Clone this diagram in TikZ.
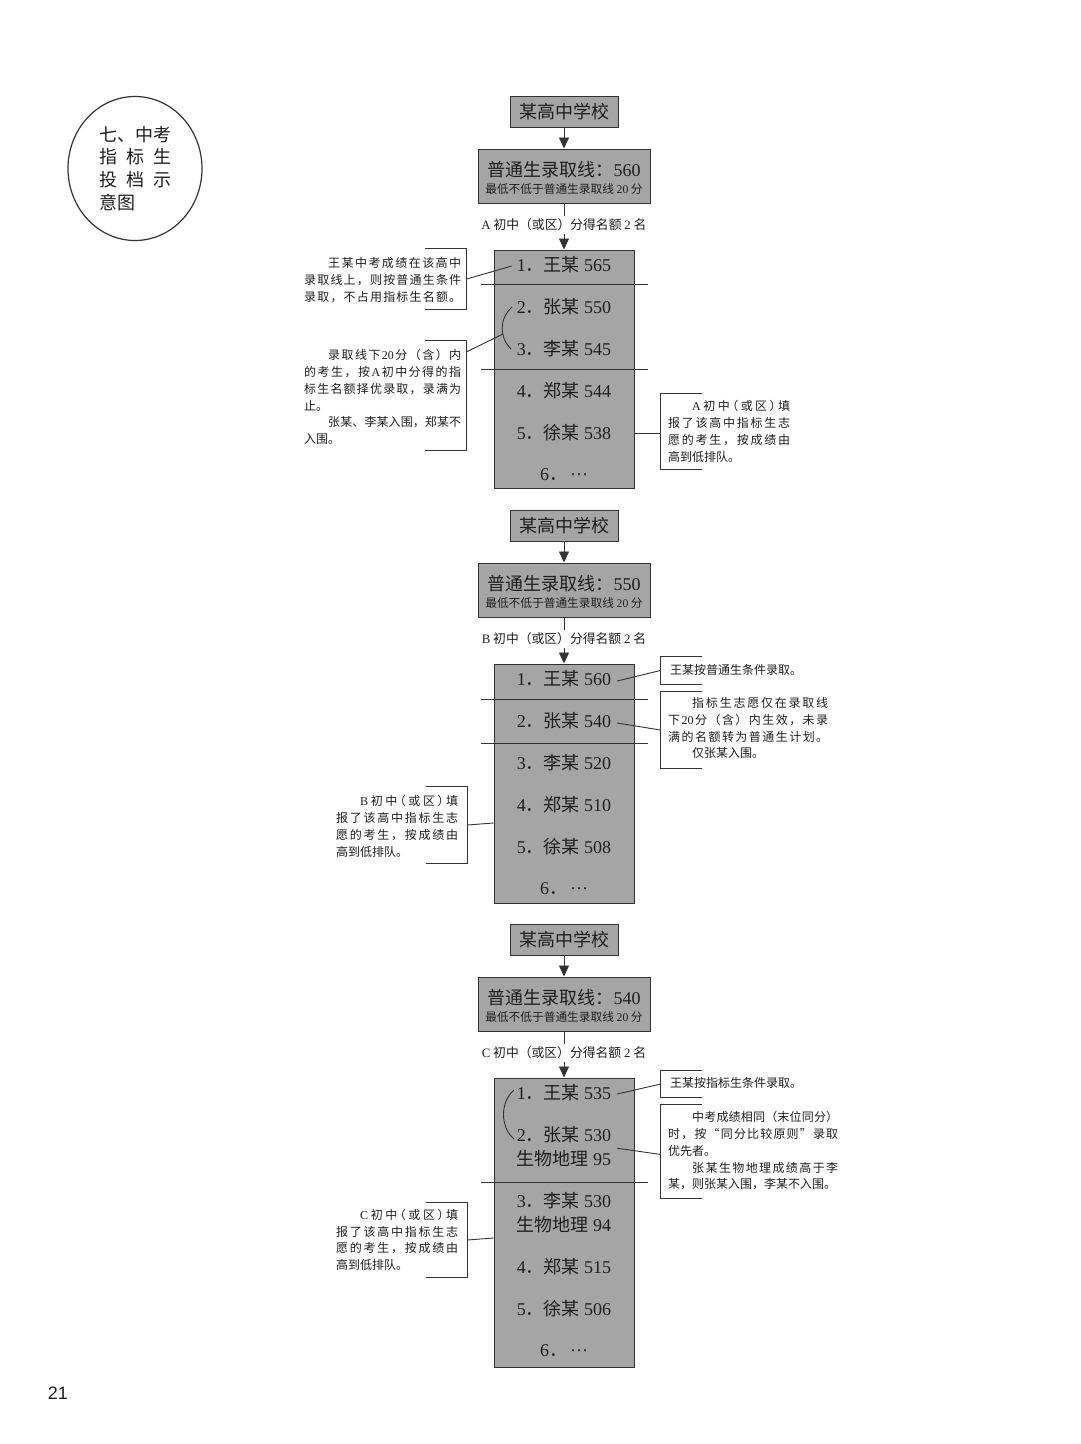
\documentclass[tikz,border=0pt]{standalone}
\usepackage{fontspec}
\setmainfont{Noto Sans CJK SC}
\newfontfamily\latf{Liberation Serif}
\newfontfamily\arialf{Liberation Sans}
\newfontfamily\cjkhalt[RawFeature=+halt]{Noto Sans CJK SC}
\usetikzlibrary{arrows.meta,shapes.geometric,calc}
\definecolor{boxgray}{HTML}{A5A5A5}
\definecolor{ink}{HTML}{1E1E1E}
\definecolor{edge}{HTML}{333333}
\newcommand\latn[1]{{\latf #1}}
\newcommand\lp{{\cjkhalt （}}
\newcommand\rp{{\cjkhalt ）}}
\newcommand\middots{\hspace{3pt}\raisebox{0.28em}{\latf …}}
\makeatletter
\let\sprend\relax
\newcommand\spr[2]{\makebox[#1][s]{\spr@a#2\sprend}}
\newcommand\sprI[2]{\makebox[#1][s]{\hspace*{2em}\spr@a#2\sprend}}
\def\spr@a#1{{#1}\spr@b}
\def\spr@b#1{\ifx\sprend#1\else\hfil{#1}\expandafter\spr@b\fi}
\makeatother
\tikzset{
  ln/.style={draw=edge, line width=0.9pt},
  arr/.style={ln, -{Triangle[length=11pt,width=10pt]}},
  hd/.style={draw=edge, fill=boxgray, line width=1pt, minimum width=108pt, minimum height=31pt, inner sep=0pt, font=\fontsize{18pt}{21pt}\selectfont, text=ink},
  lb/.style={draw=edge, fill=boxgray, line width=1pt, minimum width=172pt, minimum height=54pt, inner sep=0pt},
  big/.style={draw=edge, fill=boxgray, line width=1pt, minimum width=140pt, inner sep=0pt},
  itm/.style={inner sep=0pt, font=\fontsize{18pt}{21pt}\selectfont, text=ink},
  quota/.style={inner sep=2.5pt, font=\fontsize{12.8pt}{15pt}\selectfont, text=ink},
  note/.style={inner sep=0pt, align=left, anchor=north west, font=\fontsize{12pt}{16.7pt}\selectfont, text=ink},
  brk/.style={inner sep=0pt, minimum width=41pt},
}
\newcommand\topblk[4]{%
  \node[hd] (#1h) at (564,111.5+#2) {某高中学校};
  \node[lb] (#1b) at (564,176+#2) {};
  \node[itm] (#1bt) at (564,170+#2) {普通生录取线：\latn{#3}};
  \node[itm, font=\fontsize{11.7pt}{13pt}\selectfont] (#1bs) at (564,189.5+#2) {最低不低于普通生录取线 \latn{20} 分};
  \node[quota] (#1q) at (564,225+#2) {\latn{#4} 初中（或区）分得名额 \latn{2} 名};
  \draw[arr] (#1h) -- (#1b);
  \draw[ln] (#1b) -- (#1q);
}
\newcommand\lbrk[1]{\draw[ln] (#1.north west) -- (#1.north east) -- (#1.south east) -- (#1.south west);}
\newcommand\rbrk[1]{\draw[ln] (#1.north east) -- (#1.north west) -- (#1.south west) -- (#1.south east);}
\begin{document}
\begin{tikzpicture}[x=1pt,y=-1pt]
\fill[white] (0,0) rectangle (1080,1444);
\useasboundingbox (0,0) rectangle (1080,1444);

% title ellipse
\node[draw=edge, ellipse, line width=1.2pt, minimum width=134pt, minimum height=144pt, inner sep=0pt, align=left, text=ink, font=\fontsize{18pt}{22.7pt}\selectfont] (title) at (135,168.5) {七、中考\\\spr{72pt}{指标生}\\\spr{72pt}{投档示}\\意图};

% ================= section A =================
\topblk{a}{0}{560}{A}
\node[big, minimum height=238pt] (ag) at (564,369) {};
\draw[arr] (aq) -- (ag);
\node[itm] (ai1) at (564,265) {\latn{1}．王某 \latn{565}};
\node[itm] (ai2) at (564,307) {\latn{2}．张某 \latn{550}};
\node[itm] (ai3) at (564,349) {\latn{3}．李某 \latn{545}};
\node[itm] (ai4) at (564,391) {\latn{4}．郑某 \latn{544}};
\node[itm] (ai5) at (564,433) {\latn{5}．徐某 \latn{538}};
\node[itm] (ai6) at (564,475) {\latn{6}．\middots};
\draw[ln] (481,284) -- (648,284);
\draw[ln] (481,369) -- (648,369);
\draw[ln] (512,307) .. controls (499,319) and (499,337) .. (511,349);
\coordinate (aarc) at (503,334);

\node[brk, minimum height=60pt] (aL1b) at (446,279) {};
\lbrk{aL1b}
\node[note] (aL1) at (304,257.5) {\sprI{157pt}{王某中考成绩在该高中}\\\spr{157pt}{录取线上，则按普通生条件}\\\spr{157pt}{录取，不占用指标生名额。}};
\draw[ln] (aL1b.east) -- ($(ai1.west)+(-5,1)$);

\node[brk, minimum height=109pt] (aL2b) at (446,395.5) {};
\lbrk{aL2b}
\coordinate (aL2c) at ($(aL2b.north east)+(0,11)$);
\node[note] (aL2) at (304,349.5) {\sprI{157pt}{录取线下{\latf 20}分（含）内}\\\spr{157pt}{的考生，按{\latf A}初中分得的指}\\\spr{157pt}{标生名额择优录取，录满为}\\止。\\\sprI{157pt}{张某、李某入围，郑某不}\\入围。};
\draw[ln] (aL2c) -- (aarc);

\node[brk, minimum height=75pt] (aRb) at (681,431.5) {};
\rbrk{aRb}
\node[note] (aR) at (668,400.5) {\sprI{122pt}{{\latf A}初中\lp 或区\rp 填}\\\spr{122pt}{报了该高中指标生志}\\\spr{122pt}{愿的考生，按成绩由}\\高到低排队。};
\draw[ln] (ai5.center -| ag.east) -- (ai5.center -| aRb.west);

% ================= section B =================
\topblk{b}{414}{550}{B}
\node[big, minimum height=239pt] (bg) at (564,783.5) {};
\draw[arr] (bq) -- (bg);
\node[itm] (bi1) at (564,679) {\latn{1}．王某 \latn{560}};
\node[itm] (bi2) at (564,721) {\latn{2}．张某 \latn{540}};
\node[itm] (bi3) at (564,763) {\latn{3}．李某 \latn{520}};
\node[itm] (bi4) at (564,805) {\latn{4}．郑某 \latn{510}};
\node[itm] (bi5) at (564,847) {\latn{5}．徐某 \latn{508}};
\node[itm] (bi6) at (564,889) {\latn{6}．\middots};
\draw[ln] (481,699) -- (648,699);
\draw[ln] (481,743) -- (648,743);

\node[brk, minimum height=27pt] (bR1b) at (681,670.5) {};
\rbrk{bR1b}
\node[note] (bR1) at (670,664.5) {王某按普通生条件录取。};
\draw[ln] ($(bi1.east)+(6,2)$) -- (bR1b.west);

\node[brk, minimum height=76pt] (bR2b) at (681,730) {};
\rbrk{bR2b}
\node[note] (bR2) at (668,697.5) {\sprI{160pt}{指标生志愿仅在录取线}\\\spr{160pt}{下{\latf 20}分（含）内生效，未录}\\\spr{160pt}{满的名额转为普通生计划。}\\\hspace*{2em}仅张某入围。};
\draw[ln] ($(bi2.east)+(6,2)$) -- (bR2b.west);

\node[brk, minimum height=76pt] (bLb) at (446.5,825) {};
\lbrk{bLb}
\node[note] (bL) at (336,795.5) {\sprI{122pt}{{\latf B}初中\lp 或区\rp 填}\\\spr{122pt}{报了该高中指标生志}\\\spr{122pt}{愿的考生，按成绩由}\\高到低排队。};
\draw[ln] (bLb.east) -- ($(bLb.east -| bg.west)+(0,-2)$);

% ================= section C =================
\topblk{c}{828}{540}{C}
\node[big, minimum height=289pt] (cg) at (564,1222.5) {};
\draw[arr] (cq) -- (cg);
\node[itm] (ci1) at (564,1093) {\latn{1}．王某 \latn{535}};
\node[itm] (ci2) at (564,1135) {\latn{2}．张某 \latn{530}};
\node[itm] (ci2b) at (564,1159) {生物地理 \latn{95}};
\node[itm] (ci3) at (564,1201) {\latn{3}．李某 \latn{530}};
\node[itm] (ci3b) at (564,1225) {生物地理 \latn{94}};
\node[itm] (ci4) at (564,1267) {\latn{4}．郑某 \latn{515}};
\node[itm] (ci5) at (564,1309) {\latn{5}．徐某 \latn{506}};
\node[itm] (ci6) at (564,1351) {\latn{6}．\middots};
\draw[ln] (481,1182) -- (648,1182);
\draw[ln] (514,1090) .. controls (500,1102) and (500,1127) .. (514,1139);

\node[brk, minimum height=26pt] (cR1b) at (681.5,1084) {};
\rbrk{cR1b}
\node[note] (cR1) at (670,1077.5) {王某按指标生条件录取。};
\draw[ln] ($(ci1.east)+(6,1)$) -- (cR1b.west);

\node[brk, minimum height=93pt] (cR2b) at (681.5,1151.5) {};
\rbrk{cR2b}
\node[note] (cR2) at (668,1111.5) {\sprI{170pt}{中考成绩相同（末位同分）}\\\spr{170pt}{时，按“同分比较原则”录取}\\优先者。\\\sprI{170pt}{张某生物地理成绩高于李}\\某，则张某入围，李某不入围。};
\draw[ln] ($(ci2.east)!0.55!(ci2b.east)+(6,0)$) -- ($(cR2b.west)+(0,3)$);

\node[brk, minimum height=74pt] (cLb) at (446.5,1240) {};
\lbrk{cLb}
\node[note] (cL) at (336,1209) {\sprI{122pt}{{\latf C}初中\lp 或区\rp 填}\\\spr{122pt}{报了该高中指标生志}\\\spr{122pt}{愿的考生，按成绩由}\\高到低排队。};
\draw[ln] (cLb.east) -- ($(cLb.east -| cg.west)+(0,-2)$);

% page number
\node[text=ink, font=\arialf\fontsize{18pt}{20pt}\selectfont] (pg) at (58,1393) {21};
\end{tikzpicture}
\end{document}
